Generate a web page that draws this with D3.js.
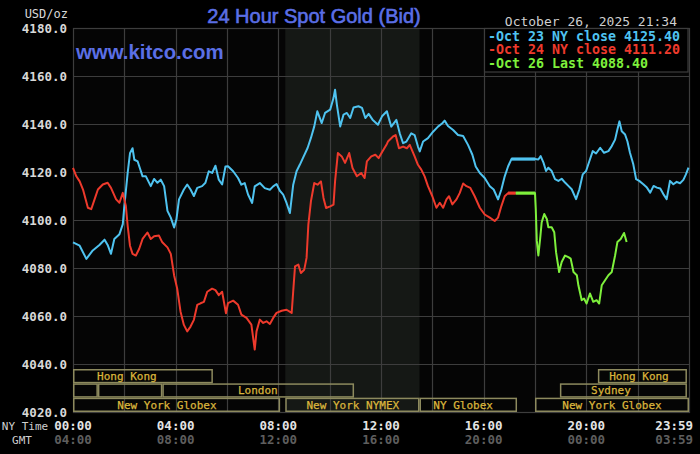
<!DOCTYPE html>
<html>
<head>
<meta charset="utf-8">
<script src="https://cdn.jsdelivr.net/npm/d3@7"></script>
<style>
  html, body { margin: 0; padding: 0; background: #000; }
  svg { display: block; }
</style>
</head>
<body>
<svg id="chart"></svg>
<script>
// hour of NY day, bid price
const oct23 = [
  [0, 4090.7], [0.26, 4089.3], [0.52, 4083.8], [0.77, 4087.3], [1.03, 4089.6], [1.23, 4091.8],
  [1.35, 4089.6], [1.48, 4085.9], [1.61, 4092.1], [1.81, 4094.1], [1.94, 4098.3], [2.0, 4105.8],
  [2.13, 4119.6], [2.22, 4127.8], [2.32, 4129.9], [2.39, 4125.1], [2.52, 4124.4], [2.71, 4118.2],
  [2.84, 4118.2], [3.03, 4114.1], [3.16, 4117.1], [3.29, 4115.5], [3.42, 4116.8], [3.55, 4114.1],
  [3.68, 4103.8], [3.81, 4101.0], [3.94, 4096.9], [4.03, 4100.3], [4.13, 4108.6], [4.32, 4112.7],
  [4.45, 4114.8], [4.58, 4112.7], [4.71, 4110.0], [4.84, 4113.4], [5.03, 4114.1], [5.16, 4115.5],
  [5.29, 4120.3], [5.42, 4119.6], [5.55, 4122.6], [5.68, 4116.8], [5.81, 4114.8], [5.94, 4122.3],
  [6.04, 4122.4], [6.24, 4120.3], [6.43, 4117.5], [6.56, 4114.7], [6.69, 4115.4], [6.82, 4110.6],
  [6.98, 4107.1], [7.08, 4114.0], [7.28, 4115.4], [7.47, 4113.3], [7.67, 4112.6], [7.80, 4114.0],
  [7.93, 4115.0], [8.06, 4112.2], [8.19, 4110.6], [8.32, 4107.1], [8.45, 4102.9], [8.58, 4114.7],
  [8.71, 4120.3], [8.84, 4123.1], [8.97, 4126.1], [9.14, 4130.0], [9.27, 4134.2], [9.40, 4139.0],
  [9.52, 4145.3], [9.69, 4140.4], [9.82, 4144.6], [10.02, 4146.0], [10.15, 4150.8], [10.21, 4154.3],
  [10.28, 4148.1], [10.41, 4139.0], [10.54, 4143.9], [10.67, 4144.6], [10.80, 4142.5], [10.93, 4146.9],
  [11.12, 4147.4], [11.26, 4146.7], [11.39, 4142.5], [11.52, 4144.2], [11.67, 4141.8], [11.88, 4139.7],
  [12.04, 4143.2], [12.23, 4145.3], [12.27, 4143.7], [12.40, 4138.9], [12.60, 4141.7], [12.73, 4136.1],
  [12.86, 4132.0], [12.99, 4132.7], [13.18, 4136.1], [13.31, 4135.4], [13.44, 4130.6], [13.51, 4128.6],
  [13.64, 4132.7], [13.83, 4134.1], [14.03, 4136.8], [14.22, 4138.9], [14.39, 4140.3], [14.48, 4141.4],
  [14.61, 4139.2], [14.81, 4137.5], [15.00, 4135.4], [15.20, 4135.0], [15.39, 4131.3], [15.56, 4127.2],
  [15.69, 4122.3], [15.85, 4119.6], [16.04, 4117.5], [16.24, 4114.1], [16.39, 4112.7], [16.56, 4108.6],
  [16.69, 4112.7], [16.82, 4118.2], [16.95, 4122.3], [17.08, 4125.4], [18.0, 4125.4], [18.13, 4125.2],
  [18.22, 4126.6], [18.33, 4123.9], [18.43, 4120.4], [18.52, 4121.8], [18.65, 4120.4], [18.78, 4117.0],
  [18.91, 4116.3], [19.04, 4117.2], [19.17, 4115.6], [19.30, 4114.2], [19.43, 4112.8], [19.60, 4108.7],
  [19.73, 4112.8], [19.86, 4119.0], [19.99, 4120.4], [20.12, 4124.6], [20.25, 4128.7], [20.38, 4127.7],
  [20.54, 4130.1], [20.69, 4128.0], [20.86, 4128.7], [20.99, 4130.8], [21.12, 4133.5], [21.21, 4137.7],
  [21.29, 4141.1], [21.38, 4137.0], [21.51, 4135.6], [21.60, 4132.8], [21.70, 4128.0], [21.83, 4123.2],
  [21.94, 4117.0], [22.06, 4116.3], [22.22, 4114.9], [22.36, 4113.5], [22.49, 4111.4], [22.62, 4114.2],
  [22.75, 4113.5], [22.88, 4113.1], [23.00, 4110.8], [23.13, 4108.7], [23.26, 4116.3], [23.39, 4114.9],
  [23.52, 4115.9], [23.65, 4115.3], [23.78, 4116.7], [23.88, 4119.0], [23.98, 4121.8]
];

const oct24 = [
  [0, 4121.7], [0.13, 4118.2], [0.26, 4116.1], [0.39, 4112.7], [0.58, 4105.1], [0.71, 4104.5],
  [0.84, 4108.6], [0.97, 4112.7], [1.16, 4114.8], [1.35, 4115.5], [1.48, 4113.4], [1.68, 4108.6],
  [1.81, 4107.2], [1.94, 4111.3], [2.06, 4105.8], [2.13, 4097.6], [2.22, 4089.3], [2.32, 4085.9],
  [2.45, 4085.2], [2.58, 4088.0], [2.71, 4092.1], [2.90, 4094.8], [3.03, 4092.1], [3.16, 4093.2],
  [3.35, 4093.5], [3.48, 4090.7], [3.68, 4088.6], [3.81, 4085.9], [3.94, 4076.9], [4.06, 4071.4],
  [4.19, 4061.8], [4.32, 4056.3], [4.45, 4053.6], [4.58, 4055.6], [4.71, 4058.4], [4.84, 4064.6],
  [4.97, 4065.3], [5.10, 4065.9], [5.23, 4070.1], [5.42, 4071.4], [5.55, 4070.8], [5.68, 4068.7],
  [5.81, 4070.1], [5.96, 4061.1], [6.04, 4065.4], [6.24, 4066.4], [6.43, 4064.7], [6.56, 4060.6],
  [6.76, 4059.2], [6.95, 4056.4], [7.08, 4046.0], [7.15, 4053.6], [7.28, 4058.5], [7.41, 4057.1],
  [7.54, 4057.8], [7.67, 4056.7], [7.80, 4059.2], [7.93, 4061.3], [8.13, 4062.2], [8.32, 4062.6],
  [8.52, 4061.3], [8.58, 4070.3], [8.65, 4080.7], [8.78, 4081.4], [8.88, 4077.9], [9.01, 4079.3],
  [9.10, 4084.2], [9.17, 4098.1], [9.27, 4107.8], [9.40, 4115.4], [9.53, 4114.7], [9.66, 4116.1],
  [9.76, 4109.2], [9.86, 4105.0], [10.02, 4105.7], [10.15, 4106.4], [10.21, 4116.1], [10.32, 4127.9],
  [10.47, 4126.5], [10.60, 4123.8], [10.76, 4127.9], [10.89, 4121.7], [11.06, 4118.2], [11.23, 4119.6],
  [11.36, 4117.5], [11.45, 4124.4], [11.62, 4126.5], [11.78, 4127.2], [11.91, 4125.8], [12.06, 4128.6],
  [12.23, 4131.7], [12.27, 4132.7], [12.47, 4134.8], [12.57, 4135.4], [12.70, 4129.9], [12.86, 4130.6],
  [13.01, 4129.9], [13.12, 4131.3], [13.31, 4126.5], [13.44, 4123.0], [13.57, 4121.0], [13.70, 4118.2],
  [13.83, 4114.1], [14.00, 4109.9], [14.16, 4105.1], [14.29, 4107.2], [14.42, 4105.1], [14.55, 4108.6],
  [14.65, 4109.9], [14.78, 4106.5], [14.94, 4108.6], [15.07, 4111.3], [15.20, 4115.2], [15.33, 4114.1],
  [15.48, 4113.4], [15.65, 4109.9], [15.85, 4105.1], [16.04, 4102.3], [16.24, 4101.0], [16.43, 4099.6],
  [16.56, 4101.0], [16.69, 4105.8], [16.82, 4109.9], [16.95, 4111.2], [17.25, 4111.2]
];

const oct26 = [
  [17.25, 4111.2], [18.0, 4111.2], [18.03, 4104.6], [18.07, 4091.4], [18.13, 4085.2], [18.20, 4092.1],
  [18.26, 4099.0], [18.36, 4102.5], [18.46, 4100.4], [18.52, 4097.0], [18.65, 4097.0], [18.75, 4094.9],
  [18.82, 4086.6], [18.94, 4078.3], [19.04, 4082.5], [19.17, 4085.2], [19.30, 4084.5], [19.39, 4083.9],
  [19.50, 4078.3], [19.63, 4077.0], [19.69, 4072.8], [19.82, 4066.6], [19.91, 4067.3], [20.01, 4065.2],
  [20.14, 4069.4], [20.27, 4065.9], [20.40, 4066.6], [20.50, 4065.2], [20.60, 4072.8], [20.73, 4074.9],
  [20.86, 4077.0], [20.99, 4078.3], [21.12, 4085.2], [21.21, 4090.8], [21.34, 4092.1], [21.47, 4094.6],
  [21.57, 4090.8]
];

// market-closed flats drawn heavier
const oct23Flat = [[17.08, 4125.4], [18.0, 4125.4]];
const oct24Flat = [[16.95, 4111.2], [17.25, 4111.2]];
const oct26Flat = [[17.25, 4111.2], [18.0, 4111.2]];

const seriesNames = ["Oct 23 NY close 4125.40", "Oct 24 NY close 4111.20", "Oct 26 Last 4088.40"];
const seriesColors = ["#4fc3f0", "#ee3a2c", "#7ef03c"];

const yTicks = [4020, 4040, 4060, 4080, 4100, 4120, 4140, 4160, 4180];
const gridHours = [2, 4, 6, 8, 10, 12, 14, 16, 18, 20, 22];
const tickHours = [0, 4, 8, 12, 16, 20, 24];
const nyLabels = ["00:00", "04:00", "08:00", "12:00", "16:00", "20:00", "23:59"];
const gmtLabels = ["04:00", "08:00", "12:00", "16:00", "20:00", "00:00", "03:59"];

const nymexShade = [8.27, 13.5];

// row 0 = top row of the session strip
const sessions = [
  { row: 0, from: 0, to: 5.45, label: "Hong Kong", at: 2.1 },
  { row: 0, from: 20.45, to: 23.92, label: "Hong Kong", at: 22.05 },
  { row: 1, from: 0, to: 0.97, label: "" },
  { row: 1, from: 0.97, to: 3.48, label: "" },
  { row: 1, from: 3.48, to: 10.95, label: "London", at: 7.2 },
  { row: 1, from: 18.97, to: 23.92, label: "Sydney", at: 20.96 },
  { row: 2, from: 0, to: 8.07, label: "New York Globex", at: 3.66 },
  { row: 2, from: 8.27, to: 13.5, label: "New York NYMEX", at: 10.9 },
  { row: 2, from: 13.5, to: 17.3, label: "NY Globex", at: 15.2 },
  { row: 2, from: 18.0, to: 24, label: "New York Globex", at: 21.0 }
];

const W = 700, H = 454;
const plot = { left: 73, right: 689, top: 28, bottom: 412 };
const mono = "'DejaVu Sans Mono', 'Liberation Mono', monospace";

const svg = d3.select("#chart").attr("width", W).attr("height", H)
  .attr("viewBox", [0, 0, W, H]);

svg.append("rect").attr("width", W).attr("height", H).attr("fill", "#000");

const x = d3.scaleLinear().domain([0, 24]).range([plot.left, plot.right]);
const y = d3.scaleLinear().domain([4020, 4180]).range([plot.bottom, plot.top]);

// plot background + NYMEX shading
svg.append("rect")
  .attr("x", plot.left).attr("y", plot.top)
  .attr("width", plot.right - plot.left).attr("height", plot.bottom - plot.top)
  .attr("fill", "#050505");
svg.append("rect")
  .attr("x", x(nymexShade[0])).attr("y", plot.top)
  .attr("width", x(nymexShade[1]) - x(nymexShade[0]))
  .attr("height", plot.bottom - plot.top)
  .attr("fill", "#151815");

// grid
const grid = svg.append("g").attr("stroke", "#3d3d3d").attr("stroke-width", 1.2);
grid.selectAll(".gy").data(yTicks).join("line")
  .attr("x1", plot.left).attr("x2", plot.right)
  .attr("y1", d => Math.round(y(d)) + 0.5).attr("y2", d => Math.round(y(d)) + 0.5);
grid.selectAll(".gx").data(gridHours).join("line")
  .attr("x1", d => Math.round(x(d)) + 0.5).attr("x2", d => Math.round(x(d)) + 0.5)
  .attr("y1", plot.top).attr("y2", plot.bottom);
svg.append("rect")
  .attr("x", plot.left + 0.5).attr("y", plot.top + 0.5)
  .attr("width", plot.right - plot.left).attr("height", plot.bottom - plot.top)
  .attr("fill", "none").attr("stroke", "#3d3d3d").attr("stroke-width", 1.2);

// y axis labels
svg.append("g")
  .selectAll("text").data(yTicks).join("text")
  .attr("x", 67).attr("y", d => y(d))
  .attr("dy", "0.36em")
  .attr("text-anchor", "end")
  .attr("fill", "#d8d8d8")
  .style("font", `bold 12.5px ${mono}`)
  .text(d => d3.format(".1f")(d));
svg.append("text")
  .attr("x", 68).attr("y", 18).attr("text-anchor", "end")
  .attr("fill", "#d8d8d8")
  .style("font", `12px ${mono}`)
  .text("USD/oz");

// session strip
const rowH = (plot.bottom - 369) / 3;
const rowTop = r => 369 + r * rowH;
const sess = svg.append("g");
sess.selectAll("rect").data(sessions).join("rect")
  .attr("x", d => x(d.from) + 0.75)
  .attr("y", d => rowTop(d.row) + 0.75)
  .attr("width", d => x(d.to) - x(d.from) - 1.5)
  .attr("height", rowH - 1.5)
  .attr("fill", "none")
  .attr("stroke", "#8d8a5e")
  .attr("stroke-width", 1.5);
sess.selectAll("text").data(sessions.filter(d => d.label)).join("text")
  .attr("x", d => x(d.at))
  .attr("y", d => rowTop(d.row) + rowH / 2)
  .attr("dy", "0.36em")
  .attr("text-anchor", "middle")
  .attr("fill", "#dab53c")
  .attr("stroke", "#dab53c").attr("stroke-width", 0.25)
  .style("font", `11px ${mono}`)
  .text(d => d.label);

// x axis labels
const xl = svg.append("g");
xl.selectAll(".ny").data(tickHours).join("text")
  .attr("x", (d, i) => i === tickHours.length - 1 ? x(d) + 4 : x(d))
  .attr("y", 430)
  .attr("text-anchor", (d, i) => i === tickHours.length - 1 ? "end" : "middle")
  .attr("fill", "#e4e4e4")
  .style("font", `bold 12.5px ${mono}`)
  .text((d, i) => nyLabels[i]);
xl.selectAll(".gmt").data(tickHours).join("text")
  .attr("x", (d, i) => i === tickHours.length - 1 ? x(d) + 4 : x(d))
  .attr("y", 444)
  .attr("text-anchor", (d, i) => i === tickHours.length - 1 ? "end" : "middle")
  .attr("fill", "#5e5e5e")
  .style("font", `bold 12.5px ${mono}`)
  .text((d, i) => gmtLabels[i]);
svg.append("text").attr("x", 25).attr("y", 430).attr("text-anchor", "middle")
  .attr("fill", "#cfcfcf").style("font", `11px ${mono}`).text("NY Time");
svg.append("text").attr("x", 22).attr("y", 444).attr("text-anchor", "middle")
  .attr("fill", "#cfcfcf").style("font", `11px ${mono}`).text("GMT");

// price lines
const line = d3.line().x(d => x(d[0])).y(d => y(d[1]));
const lines = svg.append("g").attr("fill", "none").attr("stroke-linejoin", "round");
[oct23, oct24, oct26].forEach((s, i) => {
  lines.append("path").datum(s)
    .attr("d", line)
    .attr("stroke", seriesColors[i])
    .attr("stroke-width", 2);
});
[oct23Flat, oct24Flat, oct26Flat].forEach((s, i) => {
  lines.append("path").datum(s)
    .attr("d", line)
    .attr("stroke", seriesColors[i])
    .attr("stroke-width", 3.2);
});

// legend
const lg = svg.append("g");
lg.append("rect")
  .attr("x", 484.5).attr("y", plot.top + 0.5)
  .attr("width", 203.5).attr("height", 43.5)
  .attr("fill", "#000").attr("stroke", "#3d3d3d").attr("stroke-width", 1.2);
lg.selectAll("text").data(seriesNames).join("text")
  .attr("x", 488).attr("y", (d, i) => 36 + i * 13.6)
  .attr("dy", "0.36em")
  .attr("fill", (d, i) => seriesColors[i])
  .style("font", `bold 13.3px ${mono}`)
  .text(d => "-" + d);

// titles
svg.append("text")
  .attr("x", 314).attr("y", 23).attr("text-anchor", "middle")
  .attr("fill", "#5b6fe6")
  .attr("stroke", "#5b6fe6").attr("stroke-width", 0.6)
  .style("font", "20px 'Liberation Sans', Arial, sans-serif")
  .text("24 Hour Spot Gold (Bid)");
svg.append("text")
  .attr("x", 76).attr("y", 59)
  .attr("fill", "#5b6fe6")
  .style("font", "bold 20.4px 'Liberation Sans', Arial, sans-serif")
  .text("www.kitco.com");
svg.append("text")
  .attr("x", 677).attr("y", 21).attr("dy", "0.36em").attr("text-anchor", "end")
  .attr("fill", "#cfcfcf")
  .style("font", `13px ${mono}`)
  .text("October 26, 2025 21:34");
</script>
</body>
</html>
